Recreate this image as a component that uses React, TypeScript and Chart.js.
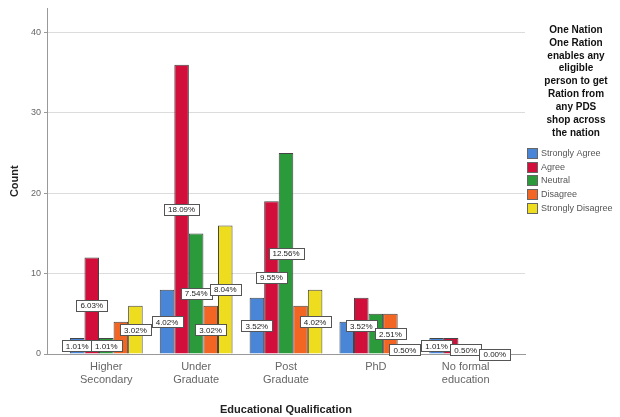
import React, { useEffect, useRef } from "react";
import { Chart, registerables } from "chart.js";

Chart.register(...registerables);

const categories: string[][] = [
  ["Higher", "Secondary"],
  ["Under", "Graduate"],
  ["Post", "Graduate"],
  ["PhD"],
  ["No formal", "education"],
];
const seriesNames = ["Strongly Agree", "Agree", "Neutral", "Disagree", "Strongly Disagree"];
const stronglyAgree = [2, 8, 7, 4, 2];
const agree = [12, 36, 19, 7, 2];
const neutral = [2, 15, 25, 5, 1];
const disagree = [4, 6, 6, 5, 0];
const stronglyDisagree = [6, 16, 8, 1, 0];

const stronglyAgreeLabels = ["1.01%", "4.02%", "3.52%", null, "1.01%"];
const agreeLabels = ["6.03%", "18.09%", "9.55%", "3.52%", null];
const neutralLabels = ["1.01%", "7.54%", "12.56%", null, "0.50%"];
const disagreeLabels = [null, "3.02%", null, "2.51%", null];
const stronglyDisagreeLabels = ["3.02%", "8.04%", "4.02%", "0.50%", "0.00%"];

const seriesColors = ["#4a86d8", "#d10f3a", "#2a9a3a", "#f26522", "#eedd1e"];
const yMax = 43;
const yStep = 10;
const xTitle = "Educational Qualification";
const yTitle = "Count";
const legendTitle = [
  "One Nation",
  "One Ration",
  "enables any",
  "eligible",
  "person to get",
  "Ration from",
  "any PDS",
  "shop across",
  "the nation",
];

const FONT = "'Liberation Sans', Arial, sans-serif";

const seriesValues = [stronglyAgree, agree, neutral, disagree, stronglyDisagree];
const seriesLabels = [stronglyAgreeLabels, agreeLabels, neutralLabels, disagreeLabels, stronglyDisagreeLabels];

const labelPlugin = {
  id: "barLabels",
  afterDatasetsDraw(chart: any) {
    const ctx = chart.ctx;
    const yScale = chart.scales.y;
    ctx.save();
    ctx.font = `8px ${FONT}`;
    ctx.textAlign = "center";
    ctx.textBaseline = "middle";
    chart.data.datasets.forEach((ds: any, di: number) => {
      const meta = chart.getDatasetMeta(di);
      const labels = seriesLabels[di];
      meta.data.forEach((bar: any, i: number) => {
        const t = labels[i];
        if (!t) return;
        const v = ds.data[i].y;
        const cy = yScale.getPixelForValue(v / 2);
        const w = Math.round(ctx.measureText(t).width + 8);
        const h = 11;
        const x0 = Math.round(bar.x - w / 2) + 0.5;
        const y0 = Math.round(cy - h / 2) + 0.5;
        ctx.fillStyle = "#ffffff";
        ctx.fillRect(x0, y0, w, h);
        ctx.strokeStyle = "#555";
        ctx.lineWidth = 1;
        ctx.strokeRect(x0, y0, w, h);
        ctx.fillStyle = "#222";
        ctx.fillText(t, bar.x, cy + 0.5);
      });
    });
    ctx.restore();
  },
};

const legendPlugin = {
  id: "customLegend",
  afterDraw(chart: any) {
    const ctx = chart.ctx;
    ctx.save();
    ctx.font = `bold 10px ${FONT}`;
    ctx.textAlign = "center";
    ctx.textBaseline = "middle";
    ctx.fillStyle = "#111";
    legendTitle.forEach((line, i) => {
      ctx.fillText(line, 576, 30 + i * 12.9);
    });
    ctx.font = `9px ${FONT}`;
    ctx.textAlign = "left";
    seriesNames.forEach((name, i) => {
      const cy = 153 + i * 13.7;
      ctx.fillStyle = seriesColors[i];
      ctx.fillRect(527.5, Math.round(cy - 5) + 0.5, 10, 10);
      ctx.strokeStyle = "#666";
      ctx.lineWidth = 1;
      ctx.strokeRect(527.5, Math.round(cy - 5) + 0.5, 10, 10);
      ctx.fillStyle = "#555";
      ctx.fillText(name, 541, cy + 0.5);
    });
    ctx.restore();
  },
};

export default function App() {
  const ref = useRef<HTMLCanvasElement | null>(null);
  useEffect(() => {
    if (!ref.current) return;
    const chart = new Chart(ref.current, {
      type: "bar",
      data: {
        datasets: seriesNames.map((name, si) => ({
          label: name,
          data: seriesValues[si].map((v, i) => ({ x: i, y: v })),
          backgroundColor: seriesColors[si],
          borderColor: "#444",
          borderWidth: 1,
          categoryPercentage: 0.81,
          barPercentage: 1,
        })),
      },
      options: {
        animation: false,
        responsive: false,
        maintainAspectRatio: false,
        layout: { padding: { top: 8, right: 95, left: 0, bottom: 0 } },
        plugins: {
          legend: { display: false },
          tooltip: { enabled: false },
        },
        scales: {
          x: {
            type: "linear",
            offset: false,
            min: -0.66,
            max: 4.66,
            afterBuildTicks: (s: any) => {
              s.ticks = categories.map((_, i) => ({ value: i }));
            },
            afterFit: (s: any) => {
              s.height = 63;
            },
            ticks: {
              callback: (v: any) => categories[v] ?? "",
              font: { family: FONT, size: 11 },
              color: "#666",
              padding: 6,
              autoSkip: false,
              maxRotation: 0,
            },
            grid: { display: false, drawTicks: false, offset: false },
            border: { display: true, color: "#999" },
            title: {
              display: true,
              text: xTitle,
              font: { family: FONT, size: 11, weight: "bold" },
              color: "#222",
              padding: { top: 2.5, bottom: 0 },
            },
          },
          y: {
            min: 0,
            max: yMax,
            afterFit: (s: any) => {
              s.width = 47;
            },
            ticks: {
              stepSize: yStep,
              includeBounds: false,
              font: { family: FONT, size: 9 },
              color: "#666",
              padding: 3,
            },
            grid: { color: "#dcdcdc", tickLength: 3, tickColor: "#999" },
            border: { display: true, color: "#999" },
            title: {
              display: true,
              text: yTitle,
              font: { family: FONT, size: 11, weight: "bold" },
              color: "#222",
              padding: { top: 8, bottom: 0 },
            },
          },
        },
      } as any,
      plugins: [labelPlugin, legendPlugin],
    });
    return () => chart.destroy();
  }, []);
  return (
    <div style={{ position: "fixed", left: 0, top: 0, width: 620, height: 417, background: "#fff" }}>
      <canvas ref={ref} width={620} height={417} style={{ display: "block" }} />
    </div>
  );
}
